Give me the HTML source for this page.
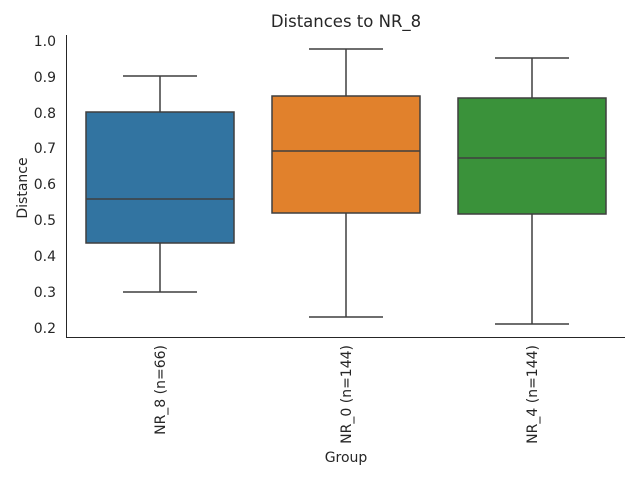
<!DOCTYPE html>
<html><head><meta charset="utf-8"><style>body{margin:0;background:#fff}svg{display:block}text{font-family:"DejaVu Sans","Liberation Sans",sans-serif;fill:#262626}</style></head>
<body>
<svg width="640" height="480" viewBox="0 0 640 480">
<text x="346" y="27" font-size="16.5" text-anchor="middle">Distances to NR_8</text>
<g font-size="14" text-anchor="end">
<text x="56" y="46">1.0</text><text x="56" y="82">0.9</text><text x="56" y="118">0.8</text><text x="56" y="153">0.7</text><text x="56" y="189">0.6</text><text x="56" y="225">0.5</text><text x="56" y="261">0.4</text><text x="56" y="297">0.3</text><text x="56" y="333">0.2</text>
</g>
<text transform="translate(27,188) rotate(-90)" font-size="14" text-anchor="middle">Distance</text>
<text x="346" y="462" font-size="14" text-anchor="middle">Group</text>
<g font-size="14" text-anchor="end">
<text transform="translate(165,345) rotate(-90)">NR_8 (n=66)</text>
<text transform="translate(351,345) rotate(-90)">NR_0 (n=144)</text>
<text transform="translate(537,345) rotate(-90)">NR_4 (n=144)</text>
</g>
<g stroke="#3f3f3f" stroke-width="1.5" fill="none">
<line x1="160" y1="76" x2="160" y2="112"/><line x1="160" y1="243" x2="160" y2="292"/>
<line x1="123" y1="76" x2="197" y2="76"/><line x1="123" y1="292" x2="197" y2="292"/>
<rect x="86" y="112" width="148" height="131" fill="#3274a1"/><line x1="86" y1="199" x2="234" y2="199"/>
<line x1="346" y1="49" x2="346" y2="96"/><line x1="346" y1="213" x2="346" y2="317"/>
<line x1="309" y1="49" x2="383" y2="49"/><line x1="309" y1="317" x2="383" y2="317"/>
<rect x="272" y="96" width="148" height="117" fill="#e1812c"/><line x1="272" y1="151" x2="420" y2="151"/>
<line x1="532" y1="58" x2="532" y2="98"/><line x1="532" y1="214" x2="532" y2="324"/>
<line x1="495" y1="58" x2="569" y2="58"/><line x1="495" y1="324" x2="569" y2="324"/>
<rect x="458" y="98" width="148" height="116" fill="#3a923a"/><line x1="458" y1="158" x2="606" y2="158"/>
</g>
<g stroke="#262626" stroke-width="1">
<line x1="66.5" y1="35" x2="66.5" y2="337.5"/><line x1="66" y1="337.5" x2="625" y2="337.5"/>
</g>
</svg>
</body></html>
